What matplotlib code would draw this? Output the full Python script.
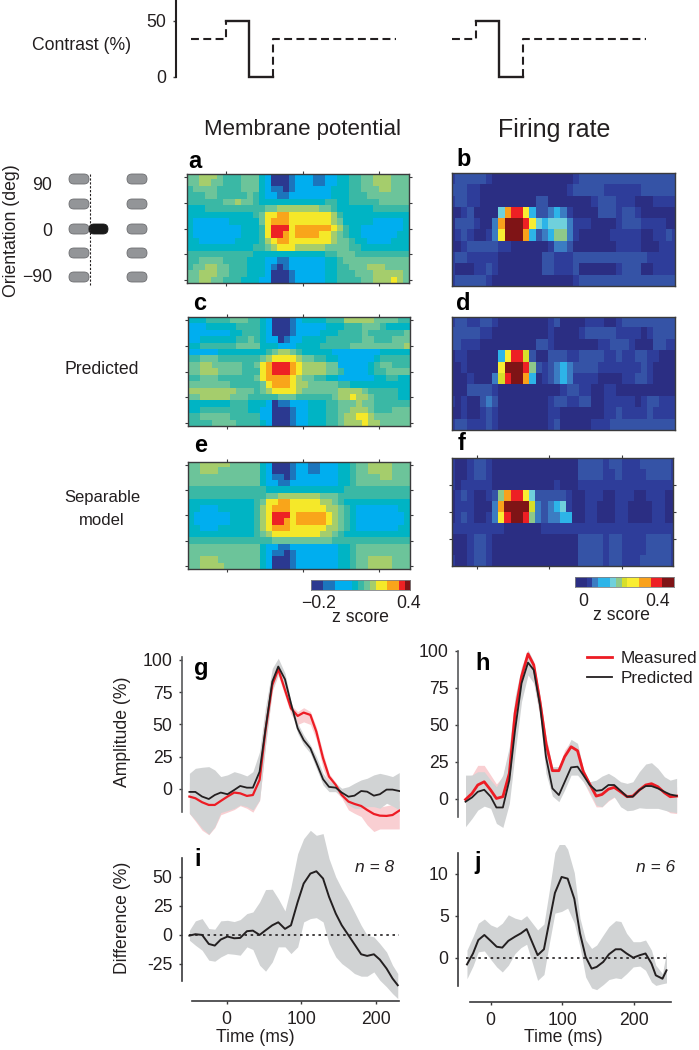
import numpy as np
import matplotlib
matplotlib.use("Agg")
import matplotlib.pyplot as plt
from matplotlib.colors import ListedColormap
from matplotlib.patches import FancyBboxPatch

plt.rcParams['font.family'] = ['Liberation Sans', 'DejaVu Sans']
plt.rcParams['text.color'] = '#231f20'
plt.rcParams['axes.edgecolor'] = '#3a3a3c'
plt.rcParams['xtick.color'] = '#3a3a3c'
plt.rcParams['ytick.color'] = '#3a3a3c'
plt.rcParams['xtick.labelcolor'] = '#231f20'
plt.rcParams['ytick.labelcolor'] = '#231f20'

W, H = 699, 1050

# Stimulus time course
stim_dash1_t = [-35, 0, 0]
stim_dash1_c = [34, 34, 50]
stim_solid1_t = [0, 23, 23, 47]
stim_solid1_c = [50, 50, 0, 0]
stim_dash2_t = [47, 47, 170]
stim_dash2_c = [0, 34, 34]
stim_dash3_t = [226, 250, 250]
stim_solid2_t = [250, 273, 273, 297]
stim_dash4_t = [297, 297, 420]

# Heat maps: one hex digit per cell, colour level
left_colors = ['#2b3990', '#1c75bc', '#00aeef', '#00b4c4', '#3ab8a5', '#6cc49a',
               '#a5cd6c', '#f5e829', '#f9a51a', '#ed2224', '#7f1416']
right_colors = ['#2b2e83', '#2e3d9a', '#3553a6', '#3b7cc2', '#2db4e8', '#6fd0dc',
                '#8ec98a', '#d7df2a', '#f9ed32', '#f9a11b', '#ed2024', '#7f1416']
left_bar_levels = [0, 0, 1, 1, 2, 2, 2, 3, 4, 5, 6, 7, 7, 8, 8, 9, 10]
right_bar_levels = [0, 0, 1, 3, 4, 4, 5, 6, 7, 8, 8, 9, 9, 10, 10, 11, 11]

map_a = [
    "55666 54445 55320 00122 21122 33445 56665 55",
    "55665 54445 55320 00122 21122 33445 56665 55",
    "45555 44445 55321 10122 22223 33445 55665 55",
    "44455 44444 54322 11222 22223 33444 55555 55",
    "44444 45565 54333 33333 33344 33444 44555 55",
    "33344 44444 44455 66666 66554 33333 34444 44",
    "33333 33333 34577 88777 77776 43333 33333 33",
    "32222 22333 33578 88777 77776 53333 32222 23",
    "32222 22223 33479 99788 88887 64332 22222 23",
    "32222 22223 33479 98788 88776 54332 22222 33",
    "33222 22233 33467 88777 77776 55433 22223 33",
    "33333 33333 34456 77766 66655 55443 33333 33",
    "44444 44444 43333 33333 33344 55544 44444 44",
    "44555 54444 33322 11222 22233 45555 55555 55",
    "45566 55444 33321 01222 22233 44555 66655 55",
    "55666 55444 33320 00122 22233 44455 56666 65",
    "55665 54443 33220 00122 22233 44445 56667 65",
]
map_c = [
    "33344 44555 44320 00123 33344 46666 65555 44",
    "22233 33344 44320 00122 22233 34445 55433 33",
    "22222 22334 44320 00122 22333 44445 44444 45",
    "22333 33344 54322 01223 33344 44445 54445 55",
    "33444 44455 55333 22233 33444 44555 55555 56",
    "22222 33333 33345 66543 33332 22222 22333 33",
    "44555 44444 44567 77765 54433 22222 23444 44",
    "55665 55554 45789 99876 66655 22222 34554 44",
    "55666 55554 44789 99876 66655 42222 34455 55",
    "44555 44444 45788 88765 54433 22222 23344 33",
    "55555 55444 44578 88766 55555 44333 33333 33",
    "66666 66655 54567 77765 55555 66665 44444 33",
    "55666 66555 44444 55544 44445 66766 54444 33",
    "33333 33444 33320 11222 33344 55565 54444 44",
    "33444 44444 33220 00122 33344 55666 54445 55",
    "44555 55444 44220 00122 33344 56677 65555 55",
    "44445 55544 44320 00122 33344 56667 66555 55",
]
map_e = [
    "55666 66555 55320 00122 11222 33455 66665 55",
    "55666 55555 55320 00122 11222 33455 66665 55",
    "55555 55555 55321 10122 22222 33455 55665 55",
    "55555 55555 55322 11222 22222 33455 55555 55",
    "44444 44444 44433 33333 33333 34444 44444 44",
    "44444 44444 44455 66666 66555 44444 44444 44",
    "33333 33333 34577 88777 77665 43333 33333 33",
    "33222 33333 34678 88777 77766 54322 22222 33",
    "32222 22333 34679 99788 88876 54322 22222 23",
    "32222 22333 34679 98788 88876 54322 22222 23",
    "33222 33333 34678 88777 77766 54322 22222 33",
    "33333 33333 34567 77777 77665 43333 33333 33",
    "44444 44444 44445 55555 55554 44444 44444 44",
    "55555 55555 55322 11222 22222 33455 55555 55",
    "55555 55555 55321 10122 22222 33455 55555 55",
    "55666 55555 55320 00122 22222 33455 66665 55",
    "55666 65555 55320 00122 22222 33455 66665 55",
]
map_b = [
    "12222 21000 00000 00000 12222 22222 22222 22",
    "22211 00000 00000 00001 22222 11111 12222 22",
    "12211 00000 00002 20000 00012 22111 00011 11",
    "00120 00059 AA842 23431 00002 22122 10000 00",
    "02221 0039B BBA85 45553 11100 00122 21111 00",
    "01210 0138B BB942 34663 10000 01111 10011 21",
    "00122 22211 00000 01332 00000 00111 10001 11",
    "12211 11100 00000 22111 22222 22222 22111 11",
    "10001 12100 00000 22111 20000 00122 20011 11",
    "12222 21000 00000 00000 12222 22222 22222 22",
]
map_d = [
    "12211 22100 00000 01200 00111 00122 22222 22",
    "22222 11000 00000 01000 01222 22111 10122 22",
    "22111 00000 00002 21000 00001 12221 00022 11",
    "01100 00048 AA720 02221 12222 11211 22110 00",
    "00100 0008B BBA62 12343 22221 11111 12100 00",
    "00010 0037A BB940 12343 11110 00011 22100 00",
    "00022 22100 00000 00012 21100 11000 00000 00",
    "10100 23200 00000 01221 12200 11111 01221 11",
    "00100 12100 00000 01100 00000 11211 11211 11",
    "12211 12100 00000 01200 00011 12222 22222 22",
]
map_f = [
    "10012 21000 00000 00000 02222 12211 12222 21",
    "10012 21000 00000 00000 02222 11211 11222 21",
    "10111 11000 00000 00100 01111 11111 11111 11",
    "01210 01269 AA852 22221 00111 00111 00111 00",
    "01110 0039B BBB73 23451 00110 00110 00011 00",
    "01210 0138A BBA63 23344 00110 00110 00011 00",
    "11111 11110 00000 11111 11111 11111 11111 11",
    "00012 21000 00000 00000 02222 12211 11222 21",
    "00012 21000 00000 00000 02222 12211 11222 21",
    "10012 21000 00000 00000 02222 12211 12222 21",
]

# Panel g
t_g = [-50, -42, -33, -24, -16, -8, 1, 10, 18, 27, 35, 44, 52, 61, 69, 78, 86, 95, 103,
       112, 120, 129, 137, 146, 154, 163, 171, 180, 188, 197, 205, 214, 222, 231]
g_pred = [-2.3, -2.3, -5.9, -7.8, -4.7, -2.8, -4.1, -0.8, 2.3, 1, 1, 13.4, 46.8, 83.2, 94.9, 85, 66.4,
          47, 37.9, 31.5, 20.4, 7.5, 1.6, 1, -2.8, -6, -5.2, -1.6, -2.1, -5.2, -4.1, -0.5, -0.5, -1.6]
g_meas = [-5.9, -7.2, -10.3, -12.4, -12.4, -9.3, -5.9, -2.8, -3.4, -5.4, -4.7, 7, 45.7, 80.6, 92.8, 76.7, 62.5,
          56.6, 59.2, 57.4, 44.4, 23.8, 9.6, 3.1, -4.7, -9.8, -11.6, -13.2, -16.3, -19.4, -20.7, -20.9, -20.2, -16.8]
g_gray_hi = [12.1, 16, 16.8, 17.3, 14.7, 9.6, 10.9, 13.4, 12.1, 10.1, 13.4, 28.9, 63.8, 93.5, 101.3, 89.7, 67.7,
             50.9, 41.9, 34.1, 25.1, 12.1, 5.7, 4.4, 0.5, 1.8, 4.4, 7, 8.3, 10.9, 12.1, 10.9, 9.6, 12.7]
g_gray_lo = [-18.9, -24, -30.5, -35.1, -29.2, -18.3, -16.8, -15, -12.4, -13.7, -16.3, -8.5, 34.1, 76.7, 89.7, 76.7, 61.2,
             43.2, 34.1, 27.6, 16, 3.1, -2.1, -2.1, -5.9, -12.4, -15, -15, -13.7, -13.7, -15, -11.1, -13.2, -16.3]
g_pink_hi = [5, 8, 6, 5, 5, 8, 9, 10, 9, 7, 8, 20, 55, 90, 97, 85, 65,
             60, 63, 60, 48, 28, 12, 5, -2, -7, -8, -9, -11, -13, -14, -13, -12, -9]
g_pink_lo = [-19, -25, -32, -35.5, -30, -20, -18, -16, -13, -15, -18, -9, 34, 76, 88, 72, 58,
             50, 52, 50, 38, 16, 3, -2, -7, -16.3, -18.9, -21.4, -27.9, -33, -31, -31, -31, -31]

# Panel h
t_h = [-35, -26, -18, -9, 0, 8, 17, 26, 34, 43, 52, 60, 69, 77, 86, 95, 103, 112,
       121, 129, 138, 147, 155, 164, 172, 181, 190, 198, 207, 216, 224, 233, 242, 250, 259]
h_pred = [-2, 0.9, 4.7, 6.1, 1.4, -5.9, -5.9, 12.6, 46.6, 78.1, 92.1, 87.1, 62.3, 28.4, 7, 2.5, 11.3, 21.2,
          21.7, 16, 9.3, 5.4, 5.9, 9.3, 9.3, 5.4, 1.4, 1.4, 5.9, 8.6, 8.6, 7, 4.7, 2.9, 2]
h_meas = [-0.5, 3.6, 9.3, 11.5, 5.9, 0.2, 1.4, 17.2, 57.8, 82.6, 98, 90.5, 64.6, 37.5, 19, 19, 28.4, 35.2,
          32.5, 18.3, 9.9, 1.8, 2.9, 6.5, 7.7, 4.7, 1.4, 1.8, 5.9, 9.3, 10.2, 8.1, 4.1, 1.4, 1.8]
h_gray_hi = [16, 16, 18.3, 18.3, 12.6, 8.1, 16, 35.2, 69.1, 89.4, 100.7, 92.8, 69.1, 42, 21.7, 21.7, 30.7, 40.2,
             37.5, 20.3, 11.5, 12.6, 15.3, 17.2, 14.9, 11.5, 10.4, 11.5, 18.3, 23.5, 24.4, 20.5, 14.9, 12.6, 13.8]
h_gray_lo = [-18.9, -13.3, -7.7, -5, -6.5, -16.7, -19.4, -3.2, 30.7, 65.8, 83.8, 78.1, 54.4, 17.2, 1.8, -2, 5.9, 16,
             16, 11.5, 4.7, -4.3, -5.4, -0.9, 1.4, -5.4, -8.1, -7.7, -6.1, -6.5, -6.5, -6.5, -7.7, -8.8, -9.3]
h_pink_hi = [15, 16, 22.6, 22.6, 16, 10, 15, 33, 66, 88, 100, 92, 68, 42, 21, 21, 33, 39,
             36, 20, 11, 8, 10, 12, 12, 9, 6, 6, 12, 22, 24, 19, 13, 8, 8]
h_pink_lo = [-10, -7, -3, 0, -3, -7, -5, 3, 40, 70, 88, 80, 55, 25, 12, 10, 20, 25,
             22, 12, 3, -5.5, -5.5, -1.5, 1, -2, -4, -3, 0, 0, 1, -3, -7, -9.5, -10]

# Panel i
t_i = [-50, -42, -33, -24, -16, -8, 1, 10, 18, 27, 35, 44, 52, 61, 69, 78, 86, 95, 103,
       112, 120, 129, 137, 146, 154, 163, 171, 180, 188, 197, 205, 214, 222, 229]
i_diff = [-0.6, 0.6, 0, -7.8, -9.2, -4, -1.4, -2.9, -2.6, 3.2, 3.7, 0, 4, 8.3, 10.9, 5.2, 8.3, 28.4, 44.3,
          52.9, 54.9, 48.6, 32.8, 18.4, 8.3, -0.3, -8, -16.7, -18.1, -16.7, -21.3, -29, -37.6, -43.4]
i_hi = [4, 12.1, 14.1, 5.5, 4.9, 12.1, 12.6, 11.5, 13.2, 18.4, 19.8, 28.4, 39.1, 39.4, 31.3, 20.7, 41.4, 70.1, 83,
        90.2, 85.9, 87.4, 65.8, 50, 39.9, 29.9, 19.8, 8.3, -0.3, -1.7, -7.5, -14.7, -26.1, -33.3]
i_lo = [-4.6, -8.9, -13.2, -21.8, -22.7, -19, -16.1, -16.7, -17.5, -10.3, -12.6, -26.1, -31.3, -23.3, -10.3, -10.3, -16.1, -10.3, 11.2,
        14.1, 14.9, 11.2, -7.5, -19, -24.7, -29, -33.3, -35.6, -35.6, -31.9, -39.1, -44.8, -50.6, -54.9]

# Panel j
t_j = [-33, -24.6, -17.2, -8.8, 0, 8.4, 16.2, 24.6, 33.9, 42.2, 50.1, 65.4, 74.2, 81.7, 89.5, 98.8, 107.2,
       116.5, 124.4, 132.3, 140.6, 147.6, 156.8, 164.7, 174, 181.4, 189.3, 198.5, 207.8, 215.7, 224, 230, 239.3, 244.9]
j_diff = [-0.8, 0.5, 2.1, 2.7, 2, 1.3, 1.2, 2, 2.5, 2.9, 3.4, 0.3, 1, 4.3, 7.7, 9.6, 9.4,
          7, 2.9, 0.1, -1.3, -1.1, -0.5, 0.4, 1, 1, 0.5, 0, 0.3, 0.5, -0.7, -2.1, -2.5, -1.5]
j_hi = [0.9, 2.5, 4.1, 4.6, 3.9, 3.6, 4.1, 5.1, 4.7, 4.5, 5, 3.3, 4, 8, 12.5, 14, 12.9,
        10.1, 4.7, 2.1, 1.1, 1.5, 2.7, 3.7, 4.4, 4.3, 2.9, 1.9, 1.9, 2.1, 0.9, -0.9, -1.9, 0.7]
j_lo = [-2.5, -1, 0.7, 0.8, -0.2, -1.1, -1.7, -0.9, 0.5, 1.2, 1.6, -2.7, -2, 1.7, 5.3, 5.5, 5.9,
        4.1, 1.3, -2.3, -3.6, -3.8, -3.2, -2.6, -2.4, -2.5, -1.9, -1.1, -1, -1.5, -2.9, -3.3, -3.1, -3.0]


def make_axes(x0, y0, x1, y1):
    # rectangle given in picture pixels, y going down
    ax = fig.add_axes([x0 / W, 1 - y1 / H, (x1 - x0) / W, (y1 - y0) / H])
    ax.patch.set_visible(False)
    return ax


def decode(rows):
    return np.array([[int(c, 16) for c in r.replace(" ", "")] for r in rows])


def heat_panel(rows, box, colors, half_cols=False, xticks=(), yticks=()):
    ax = make_axes(*box)
    grid = decode(rows)
    ax.imshow(grid, cmap=ListedColormap(colors), vmin=0, vmax=len(colors) - 1,
              aspect='auto', interpolation='nearest')
    if half_cols:
        ax.set_xlim(0, grid.shape[1] - 1)
    ax.set_xticks(xticks)
    ax.set_yticks(yticks)
    ax.tick_params(top=True, right=True, bottom=True, left=True, length=2, width=0.8,
                   labelbottom=False, labelleft=False)
    for s in ax.spines.values():
        s.set_linewidth(1.0)
    return ax


def color_bar(levels, box, colors):
    ax = make_axes(*box)
    ax.imshow([levels], cmap=ListedColormap(colors), vmin=0, vmax=len(colors) - 1,
              aspect='auto', interpolation='nearest')
    ax.set_xticks([])
    ax.set_yticks([])
    for s in ax.spines.values():
        s.set_linewidth(0.6)
        s.set_color('#808285')


def line_axes(box, xlim, ylim, yticks, ybounds, xticks=None, xbounds=None):
    ax = make_axes(*box)
    ax.set_xlim(*xlim)
    ax.set_ylim(*ylim)
    ax.spines['top'].set_visible(False)
    ax.spines['right'].set_visible(False)
    ax.spines['left'].set_bounds(*ybounds)
    ax.spines['left'].set_linewidth(1.2)
    ax.set_yticks(yticks)
    ax.tick_params(axis='y', labelsize=12.7, length=2.2, width=1, pad=4.5)
    if xticks is None:
        ax.spines['bottom'].set_visible(False)
        ax.set_xticks([])
    else:
        ax.spines['bottom'].set_bounds(*xbounds)
        ax.spines['bottom'].set_linewidth(1.2)
        ax.set_xticks(xticks)
        ax.tick_params(axis='x', labelsize=12.7, length=2.5, width=1, pad=5)
    return ax


fig = plt.figure(figsize=(W / 100, H / 100), dpi=100)

# Contrast trace
ax = make_axes(175.5, 0, 660, 79)
ax.set_xlim(-50.5, 434)
ax.set_ylim(-1.8, 68.75)
for t, c in [(stim_dash1_t, stim_dash1_c), (stim_dash2_t, stim_dash2_c),
             (stim_dash3_t, stim_dash1_c), (stim_dash4_t, stim_dash2_c)]:
    ax.plot(t, c, color='#231f20', lw=1.5, linestyle=(0, (3.8, 2.1)), clip_on=False)
for t in [stim_solid1_t, stim_solid2_t]:
    ax.plot(t, stim_solid1_c, color='#231f20', lw=1.7, solid_joinstyle='miter')
ax.spines['top'].set_visible(False)
ax.spines['right'].set_visible(False)
ax.spines['bottom'].set_visible(False)
ax.spines['left'].set_bounds(0, 68.75)
ax.spines['left'].set_linewidth(1.5)
ax.spines['left'].set_color('#231f20')
ax.set_xticks([])
ax.set_yticks([0, 50])
ax.tick_params(axis='y', labelsize=12.7, length=2.2, width=1, pad=4.5)

# Heat maps
left_xt = [6.0, 18.7, 31.4]
left_yt = [0, 4, 8, 12, 16]
heat_panel(map_a, (187.3, 174, 409.3, 283.3), left_colors, xticks=left_xt, yticks=left_yt)
heat_panel(map_c, (188, 317.3, 410, 425.7), left_colors, xticks=left_xt, yticks=left_yt)
heat_panel(map_e, (188, 461.7, 410, 569.3), left_colors, xticks=left_xt, yticks=left_yt)
heat_panel(map_b, (452.3, 172.7, 675.3, 285.7), right_colors, half_cols=True)
heat_panel(map_d, (452.3, 316.7, 675.3, 430), right_colors, half_cols=True)
heat_panel(map_f, (451.7, 458.3, 673.3, 565.7), right_colors, half_cols=True,
           xticks=[4.1, 15.8, 27.7], yticks=[2, 4.5, 7])
color_bar(left_bar_levels, (310.7, 580, 410, 590), left_colors)
color_bar(right_bar_levels, (575, 577, 674, 587.3), right_colors)

# Panel g
ax = line_axes((181.7, 645, 400, 835), (-60.3, 232), (-35.7, 111.6), [0, 25, 50, 75, 100], (-17.8, 102))
ax.spines['left'].set_color('#58595b')
ax.fill_between(t_g, g_pink_lo, g_pink_hi, color='#f9cfd2', lw=0, clip_on=False)
ax.fill_between(t_g, g_gray_lo, g_gray_hi, color='#d1d3d4', lw=0, clip_on=False)
ax.plot(t_g, g_meas, color='#ed1c24', lw=1.6)
ax.plot(t_g, g_pred, color='#231f20', lw=1.3)

# Panel h
ax = line_axes((458, 640, 680, 840), (-45.5, 263.7), (-27.9, 107.4), [0, 25, 50, 75, 100], (-12.3, 100))
ax.spines['left'].set_color('#58595b')
ax.fill_between(t_h, h_pink_lo, h_pink_hi, color='#f9cfd2', lw=0)
ax.fill_between(t_h, h_gray_lo, h_gray_hi, color='#d1d3d4', lw=0)
ax.plot(t_h, h_meas, color='#ed1c24', lw=2.0, label='Measured')
ax.plot(t_h, h_pred, color='#231f20', lw=1.3, label='Predicted')
ax.legend(loc='upper left', bbox_to_anchor=(586.7 / W, 1 - 651 / H), bbox_transform=fig.transFigure,
          frameon=False, fontsize=12.3, handlelength=1.46, handletextpad=0.54, labelspacing=0.32,
          borderpad=0, borderaxespad=0)

# Panel i
ax = line_axes((181.7, 825, 400, 1001), (-60.3, 232), (-57, 94.8), [-25, 0, 25, 50], (-39.6, 66),
               xticks=[0, 100, 200], xbounds=(-46, 230.4))
ax.set_yticklabels(['-25', '0', '25', '50'])
ax.fill_between(t_i, i_lo, i_hi, color='#d1d3d4', lw=0)
ax.plot([-50, 231], [0, 0], color='#231f20', lw=1.2, linestyle=(0, (1.5, 2.2)))
ax.plot(t_i, i_diff, color='#231f20', lw=1.4)

# Panel j
ax = line_axes((458, 845, 680, 1002), (-45.5, 263.7), (-5.27, 13.4), [0, 5, 10], (-3.33, 12.5),
               xticks=[0, 100, 200], xbounds=(-28.8, 250.7))
ax.fill_between(t_j, j_lo, j_hi, color='#d1d3d4', lw=0)
ax.plot([-35, 247], [0, 0], color='#231f20', lw=1.2, linestyle=(0, (1.5, 2.2)))
ax.plot(t_j, j_diff, color='#231f20', lw=1.4)

# Everything placed by hand goes on a picture-sized overlay
ov = fig.add_axes([0, 0, 1, 1], zorder=10)
ov.set_xlim(0, W)
ov.set_ylim(H, 0)
ov.axis('off')

# Stimulus schematic
pill_y = [179, 204, 229, 253, 277]
for y in pill_y:
    for x in [69, 127]:
        ov.add_patch(FancyBboxPatch((x, y - 5), 20, 10, boxstyle="round,pad=0,rounding_size=5",
                                    facecolor='#939598', edgecolor='#6d6e71', lw=0.6))
ov.add_patch(FancyBboxPatch((89, 224), 19, 10, boxstyle="round,pad=0,rounding_size=5",
                            facecolor='#1a1a1a', edgecolor='#1a1a1a', lw=0.6))
ov.plot([89.5, 89.5], [174, 285], color='#231f20', lw=0.8, linestyle=(0, (2, 1.5)))

for y, s in zip([185, 232, 277], ['90', '0', '\u221290']):
    ov.text(52, y, s, ha='right', va='center', fontsize=12.7)

ov.text(82, 46, 'Contrast (%)', ha='center', va='center', fontsize=12.7)
ov.text(12, 231, 'Orientation (deg)', ha='center', va='center', rotation=90, fontsize=12.7)
ov.text(102, 370, 'Predicted', ha='center', va='center', fontsize=12.7)
ov.text(102, 509, 'Separable\nmodel', ha='center', va='center', fontsize=12, linespacing=1.7)
ov.text(303, 130, 'Membrane potential', ha='center', va='center', fontsize=16)
ov.text(554, 130, 'Firing rate', ha='center', va='center', fontsize=18)
ov.text(122.7, 731.5, 'Amplitude (%)', ha='center', va='center', rotation=90, fontsize=12.7)
ov.text(122.7, 918, 'Difference (%)', ha='center', va='center', rotation=90, fontsize=12.7)
ov.text(255, 1038, 'Time (ms)', ha='center', va='center', fontsize=12.7)
ov.text(563, 1038, 'Time (ms)', ha='center', va='center', fontsize=12.7)
ov.text(375, 868, 'n = 8', ha='center', va='center', fontsize=12.5, style='italic')
ov.text(656, 868, 'n = 6', ha='center', va='center', fontsize=12.5, style='italic')

ov.text(318.7, 603, '\u22120.2', ha='center', va='center', fontsize=12.7)
ov.text(409, 603, '0.4', ha='center', va='center', fontsize=12.7)
ov.text(360, 618, 'z score', ha='center', va='center', fontsize=12.7)
ov.text(583.7, 601, '0', ha='center', va='center', fontsize=12.7)
ov.text(658, 601, '0.4', ha='center', va='center', fontsize=12.7)
ov.text(621, 616, 'z score', ha='center', va='center', fontsize=12.7)

panel_letters = [('a', 195, 161), ('b', 464, 160), ('c', 200, 304), ('d', 463, 303), ('e', 201, 445),
                 ('f', 462, 443), ('g', 201, 668), ('h', 483, 663), ('i', 198, 859), ('j', 478, 862)]
for s, x, y in panel_letters:
    ov.text(x, y, s, ha='center', va='center', fontsize=17, fontweight='bold', color='black')

fig.savefig('out.png', dpi=100)
